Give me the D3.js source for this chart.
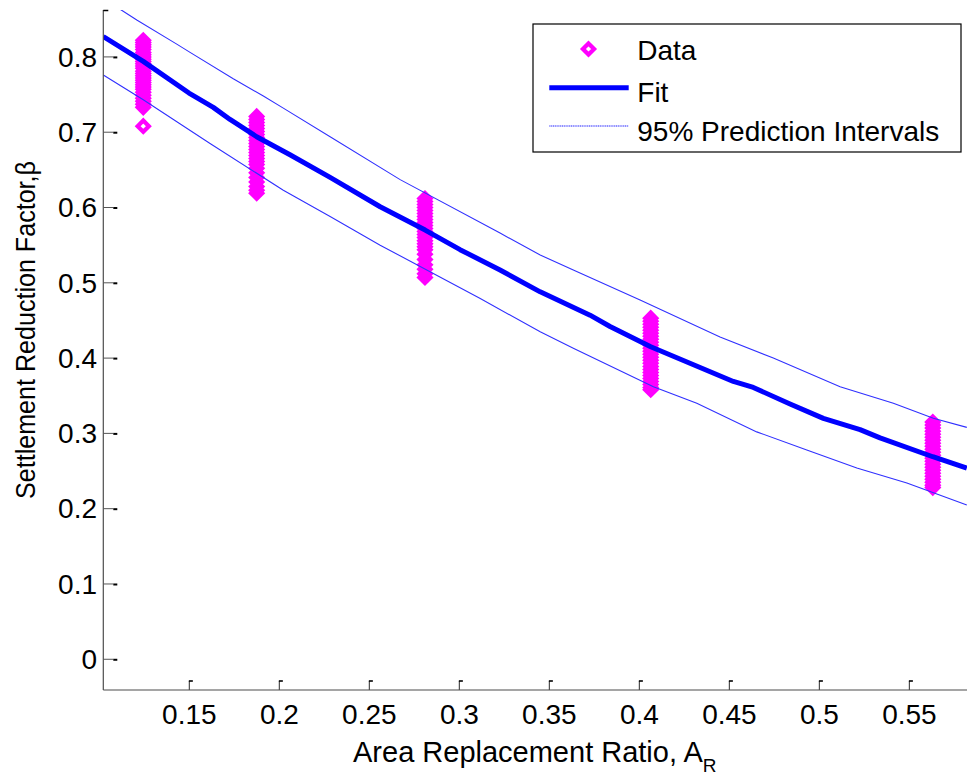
<!DOCTYPE html>
<html>
<head>
<meta charset="utf-8">
<script src="https://cdn.jsdelivr.net/npm/d3@7"></script>
<style>
  html, body { margin: 0; padding: 0; background: #fff; }
  svg { display: block; }
  text { font-family: "Liberation Sans", Arial, sans-serif; fill: #000; }
</style>
</head>
<body>
<svg id="chart" width="967" height="776"></svg>
<script>
// ---- data ----
const clusterX = [0.1244, 0.1874, 0.2809, 0.4063, 0.5630];
const cluster1 = [0.822,0.819,0.816,0.813,0.810,0.806,0.803,0.800,0.797,0.794,0.791,0.788,0.785,0.781,0.778,0.775,0.772,0.769,0.766,0.763,0.760,0.757,0.753,0.749,0.745,0.741,0.737,0.733,0.708];
const cluster2 = [0.721,0.717,0.713,0.709,0.705,0.701,0.697,0.693,0.689,0.685,0.681,0.677,0.673,0.669,0.665,0.661,0.657,0.652,0.646,0.640,0.634,0.628,0.623,0.619];
const cluster3 = [0.612,0.608,0.604,0.600,0.596,0.592,0.588,0.584,0.580,0.576,0.572,0.568,0.564,0.560,0.556,0.552,0.548,0.544,0.538,0.531,0.524,0.518,0.512,0.507];
const cluster4 = [0.453,0.449,0.445,0.441,0.437,0.433,0.429,0.425,0.421,0.417,0.413,0.409,0.405,0.401,0.397,0.393,0.389,0.385,0.381,0.377,0.373,0.369,0.365,0.361,0.358];
const cluster5 = [0.315,0.311,0.307,0.303,0.299,0.295,0.291,0.287,0.283,0.279,0.275,0.271,0.267,0.263,0.259,0.255,0.251,0.247,0.243,0.239,0.235,0.231,0.228];

const fitX = [0.1022,0.1244,0.1498,0.1541,0.1633,0.1726,0.1874,0.2059,0.2282,0.2560,0.2810,0.3004,0.3226,0.3449,0.3726,0.3837,0.4063,0.4522,0.4633,0.4837,0.5022,0.5226,0.5337,0.5630,0.5819];
const fitY = [0.827,0.794,0.752,0.746,0.733,0.717,0.694,0.670,0.640,0.601,0.570,0.544,0.517,0.488,0.457,0.442,0.415,0.369,0.361,0.339,0.320,0.305,0.294,0.269,0.254];

const upperX = [0.1022,0.1124,0.1208,0.1430,0.1504,0.1744,0.1911,0.2022,0.2282,0.2671,0.3226,0.3449,0.3633,0.3837,0.4004,0.4448,0.4744,0.5115,0.5411,0.5633,0.5819];
const upperY = [0.876,0.862,0.849,0.817,0.806,0.771,0.748,0.732,0.694,0.637,0.566,0.537,0.517,0.495,0.477,0.428,0.400,0.362,0.340,0.320,0.308];

const lowerX = [0.1022,0.1244,0.1615,0.2022,0.2282,0.2560,0.3116,0.3449,0.3633,0.4078,0.4319,0.4652,0.4930,0.5208,0.5486,0.5819];
const lowerY = [0.776,0.743,0.685,0.623,0.588,0.550,0.479,0.435,0.413,0.362,0.340,0.302,0.278,0.254,0.234,0.205];

const xTicks = [0.15,0.2,0.25,0.3,0.35,0.4,0.45,0.5,0.55];
const xTickLabels = ["0.15","0.2","0.25","0.3","0.35","0.4","0.45","0.5","0.55"];
const yTicks = [0,0.1,0.2,0.3,0.4,0.5,0.6,0.7,0.8];
const yTickLabels = ["0","0.1","0.2","0.3","0.4","0.5","0.6","0.7","0.8"];
const legendLabels = ["Data","Fit","95% Prediction Intervals"];

// ---- layout ----
const L = 103.3, R = 967, T = 10, B = 690;
const x = d3.scaleLinear().domain([0.1022, 0.582]).range([L, R]);
const y = d3.scaleLinear().domain([-0.0408, 0.8623]).range([B, T]);

const svg = d3.select("#chart");
svg.append("defs").append("clipPath").attr("id","clip")
  .append("rect").attr("x",L).attr("y",T).attr("width",R-L).attr("height",B-T);

const MAG = "#ff00ff", BLUE = "#0000ff";
const diamond = (r) => `M0,${-r}L${r},0L0,${r}L${-r},0Z`;

const plot = svg.append("g").attr("clip-path","url(#clip)");

// data markers
const clusters = [cluster1, cluster2, cluster3, cluster4, cluster5];
const pts = [];
clusters.forEach((vals, i) => vals.forEach(v => pts.push({x: clusterX[i], y: v})));
plot.append("g").selectAll("path").data(pts).enter().append("path")
  .attr("d", diamond(5.6))
  .attr("transform", d => `translate(${x(d.x)},${y(d.y)})`)
  .attr("fill","none").attr("stroke",MAG).attr("stroke-width",4.2)
  .attr("stroke-linejoin","miter");

// lines
const line = d3.line().x(d => x(d[0])).y(d => y(d[1]));
const upper = upperX.map((v,i) => [v, upperY[i]]);
const lower = lowerX.map((v,i) => [v, lowerY[i]]);
const fit = fitX.map((v,i) => [v, fitY[i]]);
[upper, lower].forEach(p => plot.append("path").attr("d", line(p))
  .attr("fill","none").attr("stroke","#3030ff").attr("stroke-width",1.1));
plot.append("path").attr("d", line(fit))
  .attr("fill","none").attr("stroke",BLUE).attr("stroke-width",5)
  .attr("stroke-linejoin","round");

// axes
const axG = svg.append("g");
axG.append("line").attr("x1",L).attr("x2",L).attr("y1",T).attr("y2",B)
  .attr("stroke","#4d4d4d").attr("stroke-width",1.2);
axG.append("line").attr("x1",L).attr("x2",R).attr("y1",B).attr("y2",B)
  .attr("stroke","#4d4d4d").attr("stroke-width",1.2);
axG.append("line").attr("x1",L).attr("x2",L+5).attr("y1",T+0.5).attr("y2",T+0.5)
  .attr("stroke","#000").attr("stroke-width",1.5);

yTicks.forEach((t,i) => {
  const yy = y(t);
  axG.append("line").attr("x1",L).attr("x2",L+10).attr("y1",yy).attr("y2",yy)
    .attr("stroke","#555").attr("stroke-width",1);
  axG.append("line").attr("x1",L+10).attr("x2",L+14).attr("y1",yy+0.5).attr("y2",yy+0.5)
    .attr("stroke","#000").attr("stroke-width",2);
  axG.append("text").attr("x",97).attr("y",yy+9.8).attr("text-anchor","end")
    .attr("font-size",28).text(yTickLabels[i]);
});
xTicks.forEach((t,i) => {
  const xx = x(t);
  axG.append("line").attr("x1",xx).attr("x2",xx).attr("y1",B).attr("y2",B-9)
    .attr("stroke","#4d4d4d").attr("stroke-width",1.2);
  axG.append("line").attr("x1",xx-0.5).attr("x2",xx+3.5).attr("y1",B-9).attr("y2",B-9)
    .attr("stroke","#000").attr("stroke-width",1.6);
  axG.append("text").attr("x",xx).attr("y",724).attr("text-anchor","middle")
    .attr("font-size",28).text(xTickLabels[i]);
});

// axis labels
const xl = svg.append("text").attr("x",353).attr("y",762).attr("font-size",29);
xl.append("tspan").text("Area Replacement Ratio, A");
xl.append("tspan").attr("dy",10).attr("font-size",19).text("R");

svg.append("text")
  .attr("transform",`translate(35,330) rotate(-90)`)
  .attr("text-anchor","middle").attr("font-size",27)
  .attr("textLength",338).attr("lengthAdjust","spacingAndGlyphs")
  .text("Settlement Reduction Factor,\u03B2");

// legend
const lg = svg.append("g");
lg.append("rect").attr("x",533).attr("y",24).attr("width",428).attr("height",128)
  .attr("fill","#fff").attr("stroke","#000").attr("stroke-width",1.2);
lg.append("path").attr("d", diamond(5.6)).attr("transform","translate(588.5,49)")
  .attr("fill","none").attr("stroke",MAG).attr("stroke-width",4.2);
lg.append("line").attr("x1",549.3).attr("x2",628.7).attr("y1",87.7).attr("y2",87.7)
  .attr("stroke",BLUE).attr("stroke-width",5);
lg.append("line").attr("x1",549.3).attr("x2",628.7).attr("y1",126).attr("y2",126)
  .attr("stroke","#6a6aff").attr("stroke-width",1.5).attr("stroke-dasharray","1.2,0.6");
const lys = [60, 101.7, 141];
legendLabels.forEach((s,i) => lg.append("text").attr("x",637.3).attr("y",lys[i])
  .attr("font-size",28).text(s));
</script>
</body>
</html>
